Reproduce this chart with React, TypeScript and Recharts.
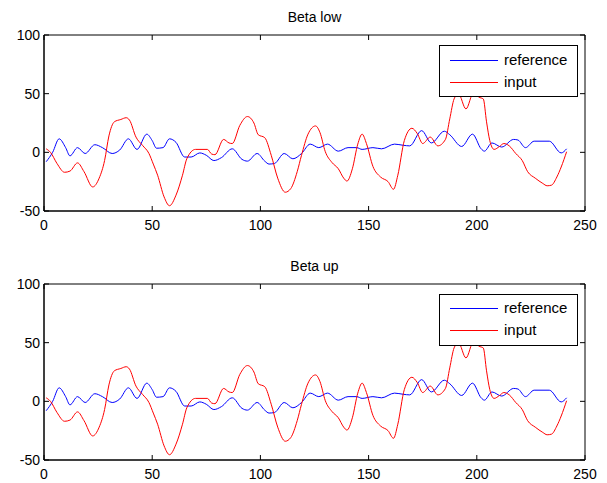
import React from 'react';
import { LineChart, Line, XAxis, YAxis, ReferenceArea, Legend } from 'recharts';

// values
const referenceX = [
    1, 4, 7, 10, 12, 15.5, 19, 23.5, 27, 31.5, 35, 39, 43, 47.5, 50, 52, 55, 58, 61, 65,
    68, 72, 75, 78.5, 82, 87, 91.5, 94, 98.5, 102, 104, 106.5, 111, 115, 119, 123, 127, 131, 136, 140.5,
    144.5, 147, 152, 156, 162, 166, 169, 174.5, 179, 185, 187.5, 193, 198, 202, 203.5, 207, 211.5, 217, 219, 222.5,
    226.5, 233.5, 239, 241.5,
];
const referenceY = [
    -8, 0, 11.5, 4, -3, 4, -1, 6.5, 4, -1, 2, 11.5, 2.5, 15.5, 10, 3.5, 4, 11.5, 8.5, -4,
    -4, -0.5, -2.5, -7, -4.5, 3, -6, -7.5, -1, -7.5, -10, -9.5, -1, -5.5, -1, 7, 4, 7, 1, 4,
    4, 2.5, 4, 3, 7, 6, 5.5, 18.5, 8, 18, 15, 5, 15.5, 3, 1, 8, 4.5, 11, 10.5, 4,
    9.5, 9.5, -0.5, 3,
];
const inputX = [
    1, 3, 6, 9.5, 12, 15.5, 18.5, 22.5, 25.5, 28, 30, 32.5, 35.5, 38, 39.5, 42.5, 45.5, 48.5, 50.5, 52.5,
    55.5, 58, 61, 64, 66, 70, 75.5, 77.5, 79, 83, 85.5, 87, 90.5, 94, 97, 99, 102, 105, 108, 111.5,
    114, 117, 119, 122, 125.5, 127.5, 130, 133, 136, 138.5, 140, 142.5, 145, 147, 149, 152, 155.5, 159, 161.5, 163.5,
    166.5, 170, 172.5, 175, 178.5, 182, 185.5, 187.5, 189.5, 191.5, 195, 198.5, 201, 203, 204.5, 206, 208, 210.5, 212.5, 215,
    218, 221, 223.5, 227, 230.5, 232.5, 234.5, 237, 239, 241.5,
];
const inputY = [
    3, 0, -9.5, -17, -16, -9, -16.5, -29.5, -22, -7, 14, 26, 28, 29.5, 27.5, 13, 6, -1, -10, -19.5,
    -38, -45.5, -36.5, -19.5, -5.5, 2.5, 2.5, -1.5, -2, 11, 8, 7.5, 23, 30.5, 25, 15, 12.5, -2.5, -22, -34,
    -31, -16.5, -2.5, 15.5, 22.5, 17, 0.5, -8.5, -14, -22, -24.5, -14, 7, 15.5, 7.5, -12, -21, -25, -31.5, -19.5,
    10, 20.5, 16, 7.5, 13, 5.5, 11, 28.5, 45.5, 50, 37, 51, 47, 45.5, 26, 10, 2.5, 5, 7.5, 5.5,
    -1, -7, -16.5, -22, -26.5, -28.5, -28, -21, -12.5, 0.5,
];
const xTicks = [0, 50, 100, 150, 200, 250];
const yTicks = [-50, 0, 50, 100];
const panelTitles = ['Beta low', 'Beta up'];
const seriesNames = ['reference', 'input'];
const seriesColors = ['#0000ff', '#ff0000'];

const referenceData = referenceX.map((x, i) => ({ x, value: referenceY[i] }));
const inputData = inputX.map((x, i) => ({ x, value: inputY[i] }));

const W = 607;
const H = 249;
const PLOT_LEFT = 44;
const PLOT_RIGHT = 585;
const PLOT_TOP = 35;
const PLOT_BOTTOM = 211;
const plotW = PLOT_RIGHT - PLOT_LEFT;
const plotH = PLOT_BOTTOM - PLOT_TOP;
const TICK_LEN = 5;
const LEGEND_TOP = 45;
const FONT = '"Liberation Sans", Arial, Helvetica, sans-serif';

// matlab style: ticks point inward, mirrored on the opposite side of the box
const XTick = (props: any) => {
    const { x, y, payload } = props;
    return (
        <g>
            <line x1={x} y1={y} x2={x} y2={y - TICK_LEN} stroke="#000" />
            <line x1={x} y1={y - plotH} x2={x} y2={y - plotH + TICK_LEN} stroke="#000" />
            <text x={x} y={y + 19} textAnchor="middle" fontSize={14} fontFamily={FONT} fill="#000">
                {payload.value}
            </text>
        </g>
    );
};

const YTick = (props: any) => {
    const { x, y, payload } = props;
    return (
        <g>
            <line x1={x} y1={y} x2={x + TICK_LEN} y2={y} stroke="#000" />
            <line x1={x + plotW} y1={y} x2={x + plotW - TICK_LEN} y2={y} stroke="#000" />
            <text x={x - 4} y={y + 5} textAnchor="end" fontSize={14} fontFamily={FONT} fill="#000">
                {payload.value}
            </text>
        </g>
    );
};

// keep the 1px swatches on even page rows so they keep their colour in the screenshot
const LegendBox = ({ pageTop }: { pageTop: number }) => {
    const base = 15 - ((pageTop + LEGEND_TOP + 15) % 2);
    return (
        <svg width={139} height={52} style={{ display: 'block' }}>
            <rect x={0.5} y={0.5} width={138} height={51} fill="#fff" stroke="#000" />
            {seriesNames.map((name, i) => (
                <g key={name}>
                    <line
                        x1={11}
                        x2={59}
                        y1={base + 0.5 + i * 22}
                        y2={base + 0.5 + i * 22}
                        stroke={seriesColors[i]}
                        strokeWidth={1}
                        shapeRendering="crispEdges"
                    />
                    <text x={65} y={base + 5 + i * 22} fontSize={15} fontFamily={FONT} fill="#000">
                        {name}
                    </text>
                </g>
            ))}
        </svg>
    );
};

const Panel = ({ title, top }: { title: string; top: number }) => (
    <div style={{ position: 'absolute', left: 0, top, width: W, height: H }}>
        <LineChart width={W} height={H} margin={{ top: PLOT_TOP, right: W - PLOT_RIGHT, bottom: 0, left: 0 }}>
            <XAxis
                dataKey="x"
                type="number"
                domain={[0, 250]}
                ticks={xTicks}
                interval={0}
                allowDataOverflow
                height={H - PLOT_BOTTOM}
                tickSize={0}
                tickMargin={0}
                tickLine={false}
                axisLine={{ stroke: '#000' }}
                tick={(p: any) => <XTick {...p} />}
            />
            <YAxis
                type="number"
                domain={[-50, 100]}
                ticks={yTicks}
                interval={0}
                allowDataOverflow
                width={PLOT_LEFT}
                tickSize={0}
                tickMargin={0}
                tickLine={false}
                axisLine={{ stroke: '#000' }}
                tick={(p: any) => <YTick {...p} />}
            />
            <ReferenceArea x1={0} x2={250} y1={-50} y2={100} fill="none" fillOpacity={0} stroke="#000" />
            <Line
                data={referenceData}
                dataKey="value"
                name={seriesNames[0]}
                type="monotone"
                stroke={seriesColors[0]}
                strokeWidth={1}
                dot={false}
                isAnimationActive={false}
            />
            <Line
                data={inputData}
                dataKey="value"
                name={seriesNames[1]}
                type="monotone"
                stroke={seriesColors[1]}
                strokeWidth={1}
                dot={false}
                isAnimationActive={false}
            />
            <Legend
                layout="vertical"
                align="center"
                verticalAlign="middle"
                content={() => <LegendBox pageTop={top} />}
                wrapperStyle={{ left: 439, top: LEGEND_TOP, width: 139, height: 52 }}
            />
        </LineChart>
        <div
            style={{
                position: 'absolute',
                left: PLOT_LEFT,
                width: plotW,
                top: 8,
                textAlign: 'center',
                fontFamily: FONT,
                fontSize: 14,
                lineHeight: '18px',
                color: '#000',
            }}
        >
            {title}
        </div>
    </div>
);

export default function App() {
    return (
        <div style={{ position: 'absolute', left: 0, top: 0, width: W, height: 483, background: '#fff' }}>
            {panelTitles.map((t, i) => (
                <Panel key={t} title={t} top={i * H} />
            ))}
        </div>
    );
}
